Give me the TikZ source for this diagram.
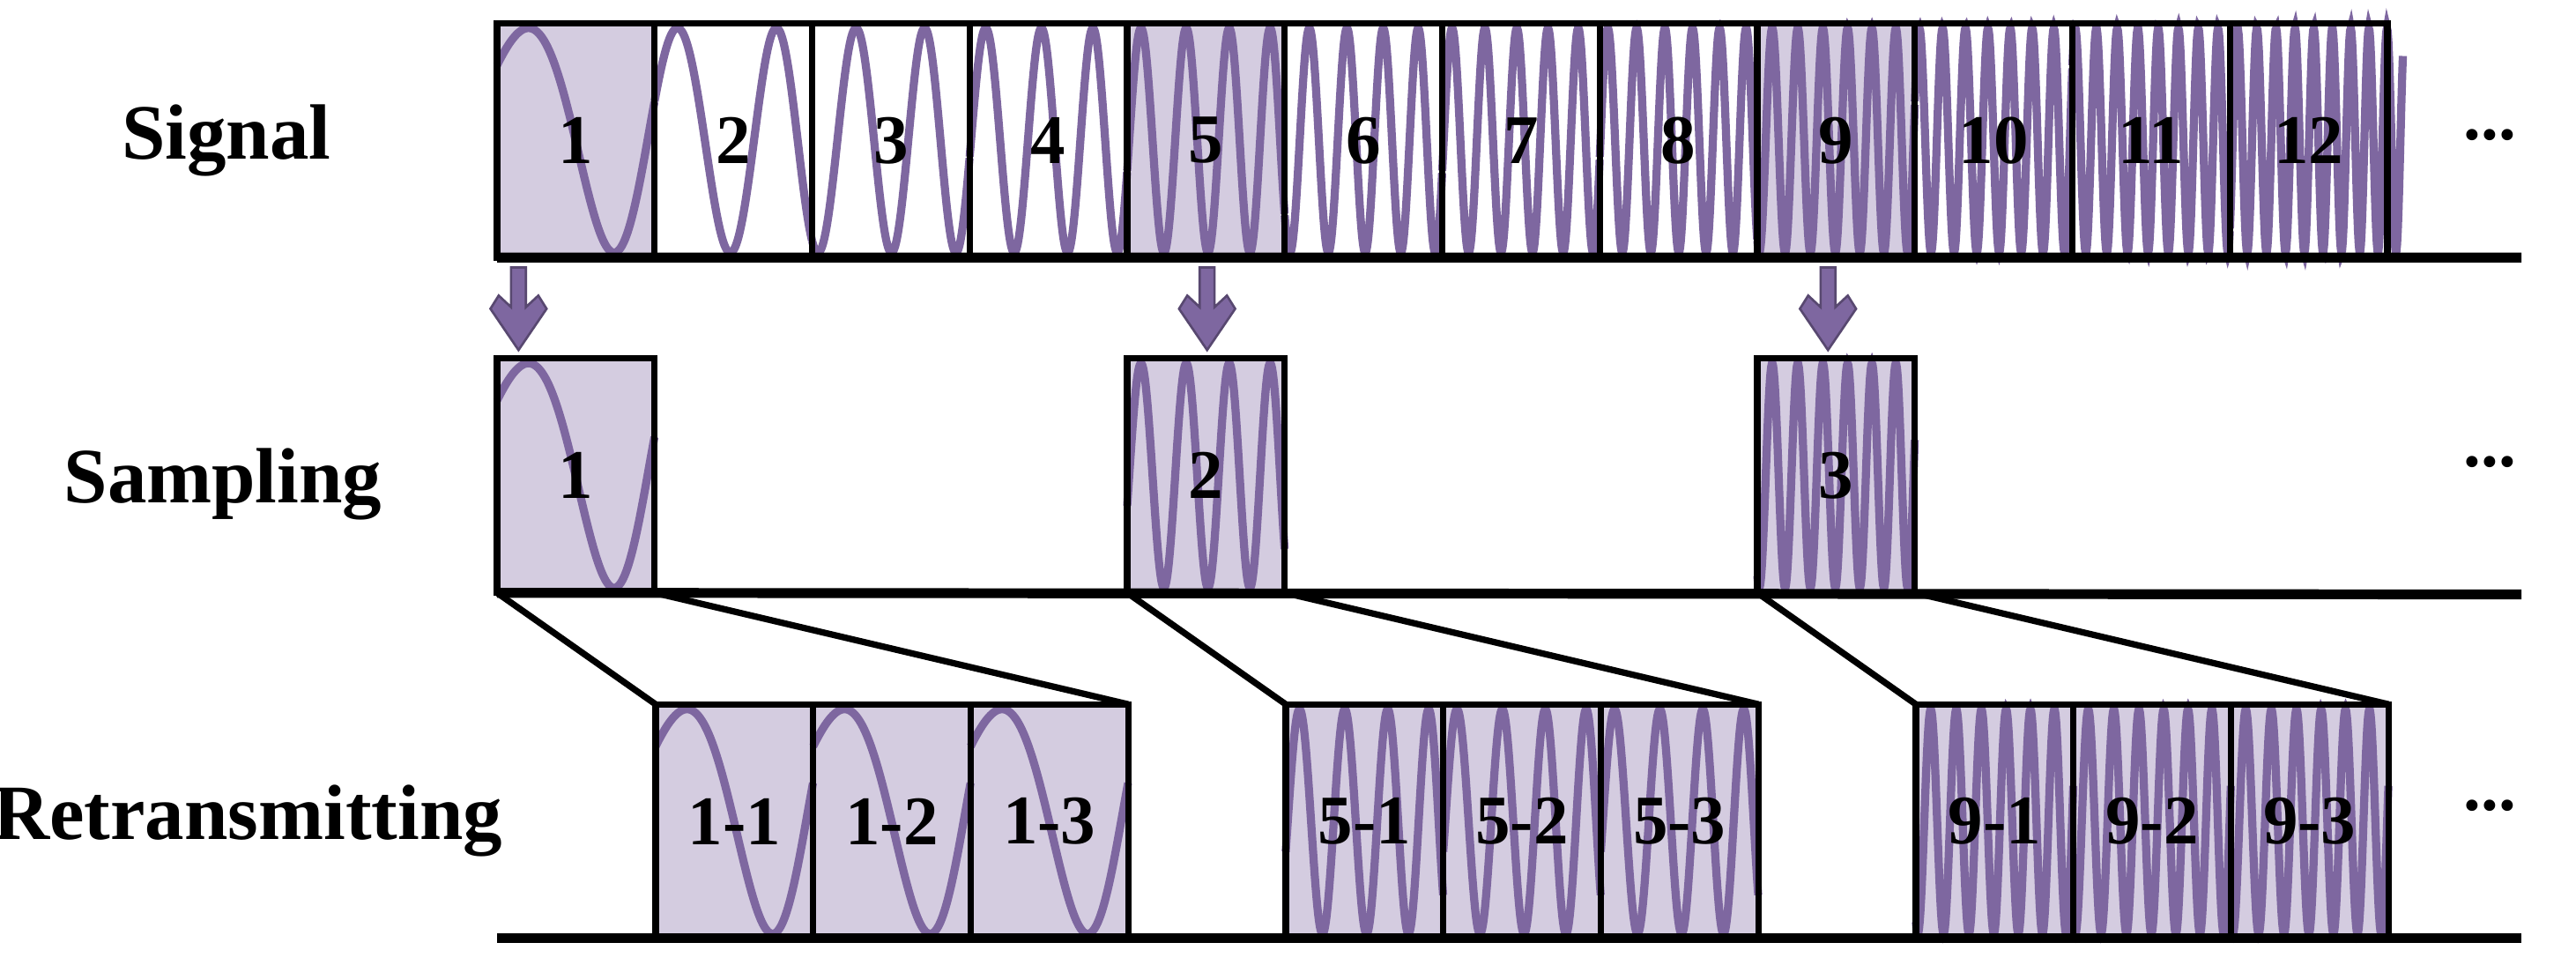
\documentclass[tikz,border=0pt]{standalone}
\usepackage{fontspec}
\setmainfont{Liberation Serif}
\usetikzlibrary{positioning}
\definecolor{wavepurple}{HTML}{7E67A0}
\definecolor{cellfill}{HTML}{D4CCE0}
\tikzset{
  cell/.style={minimum width=0.954cm, minimum height=1.42cm, inner sep=0pt, outer sep=0pt},
  shaded/.style={cell, fill=cellfill},
  wave/.style={draw=wavepurple, line width=1.4pt},
  frame/.style={draw=black, line width=1.1pt},
  base/.style={draw=black, line width=1.7pt},
  num/.style={font=\bfseries\fontsize{12}{12}\selectfont},
  rowlabel/.style={font=\bfseries\fontsize{13.5}{13.5}\selectfont},
}
% chirp inside one cell: node, cell index, domain end
\newcommand{\cellwave}[3]{%
  \begin{scope}[shift={(#1.west)}]
    \draw[wave] plot[domain=0:#3, samples=240]
      ({\x*0.954}, {0.68*sin(360*mod(0.6*(\x+#2-1)+0.34*(\x+#2-1)^2,1)+42)});
  \end{scope}}
% block arrow pointing down
\newcommand{\dnarrow}[1]{%
  \filldraw[fill=wavepurple, draw=wavepurple!70!black, line width=0.4pt, shift={(#1)}]
    (-0.045,0) -- (-0.045,-0.24) -- (-0.12,-0.17) -- (-0.17,-0.25) -- (0,-0.50)
    -- (0.17,-0.25) -- (0.12,-0.17) -- (0.045,-0.24) -- (0.045,0) -- cycle;}

\begin{document}
\begin{tikzpicture}
  \useasboundingbox (0,0) rectangle (15.6,-5.84);

  % Signal row
  \node[shaded] (s1) at (3.487,-0.85) {};
  \foreach \i [remember=\i as \j (initially 1)] in {2,...,12}{
    \pgfmathtruncatemacro{\r}{mod(\i-1,4)}
    \ifnum\r=0
      \node[shaded, right=0pt of s\j] (s\i) {};
    \else
      \node[cell, right=0pt of s\j] (s\i) {};
    \fi
  }
  \foreach \i in {1,...,11}{\cellwave{s\i}{\i}{1}}
  \cellwave{s12}{12}{1.1}
  \foreach \i in {1,...,12}{
    \draw[frame] (s\i.south west) rectangle (s\i.north east);
    \node[num] (s\i l) at (s\i) {\i};
  }
  \coordinate (send) at (15.27,-1.56);
  \draw[base] (s1.south west) -- (send);
  \node[num] (sdots) at (15.08,-0.82) {...};

  % arrows
  \coordinate (a1) at (3.14,-1.62);
  \coordinate (a2) at (7.31,-1.62);
  \coordinate (a3) at (11.07,-1.62);
  \dnarrow{a1}
  \dnarrow{a2}
  \dnarrow{a3}

  % Sampling row
  \node[shaded] (p1) at (3.487,-2.88) {};
  \node[shaded] (p2) at (7.303,-2.88) {};
  \node[shaded] (p3) at (11.119,-2.88) {};
  \foreach \i/\k in {1/1,2/5,3/9}{
    \cellwave{p\i}{\k}{1}
    \draw[frame] (p\i.south west) rectangle (p\i.north east);
    \node[num] (p\i l) at (p\i) {\i};
  }
  \coordinate (pend) at (15.27,-3.60);
  \draw[base] (p1.south west) -- (pend);
  \node[num] (pdots) at (15.08,-2.80) {...};

  % Retransmitting row
  \foreach \k/\x in {1/4.447,5/8.263,9/12.079}{
    \node[shaded] (r\k1) at (\x,-4.975) {};
    \node[shaded, right=0pt of r\k1] (r\k2) {};
    \node[shaded, right=0pt of r\k2] (r\k3) {};
    \foreach \m in {1,2,3}{
      \cellwave{r\k\m}{\k}{1}
      \draw[frame] (r\k\m.south west) rectangle (r\k\m.north east);
      \node[num] (r\k\m l) at (r\k\m) {\k-\m};
    }
  }
  \coordinate (rend) at (15.27,-5.68);
  \draw[base] (s1.south west |- rend) -- (rend);
  \node[num] (rdots) at (15.08,-4.88) {...};

  % zoom lines
  \draw[frame] (p1.south west) -- (r11.north west);
  \draw[frame] (p1.south east) -- (r13.north east);
  \draw[frame] (p2.south west) -- (r51.north west);
  \draw[frame] (p2.south east) -- (r53.north east);
  \draw[frame] (p3.south west) -- (r91.north west);
  \draw[frame] (p3.south east) -- (r93.north east);

  % row labels
  \node[rowlabel] (lsig) at (1.37,-0.85) {Signal};
  \node[rowlabel] (lsam) at (1.35,-2.93) {Sampling};
  \node[rowlabel] (lret) at (1.50,-4.97) {Retransmitting};
\end{tikzpicture}
\end{document}
